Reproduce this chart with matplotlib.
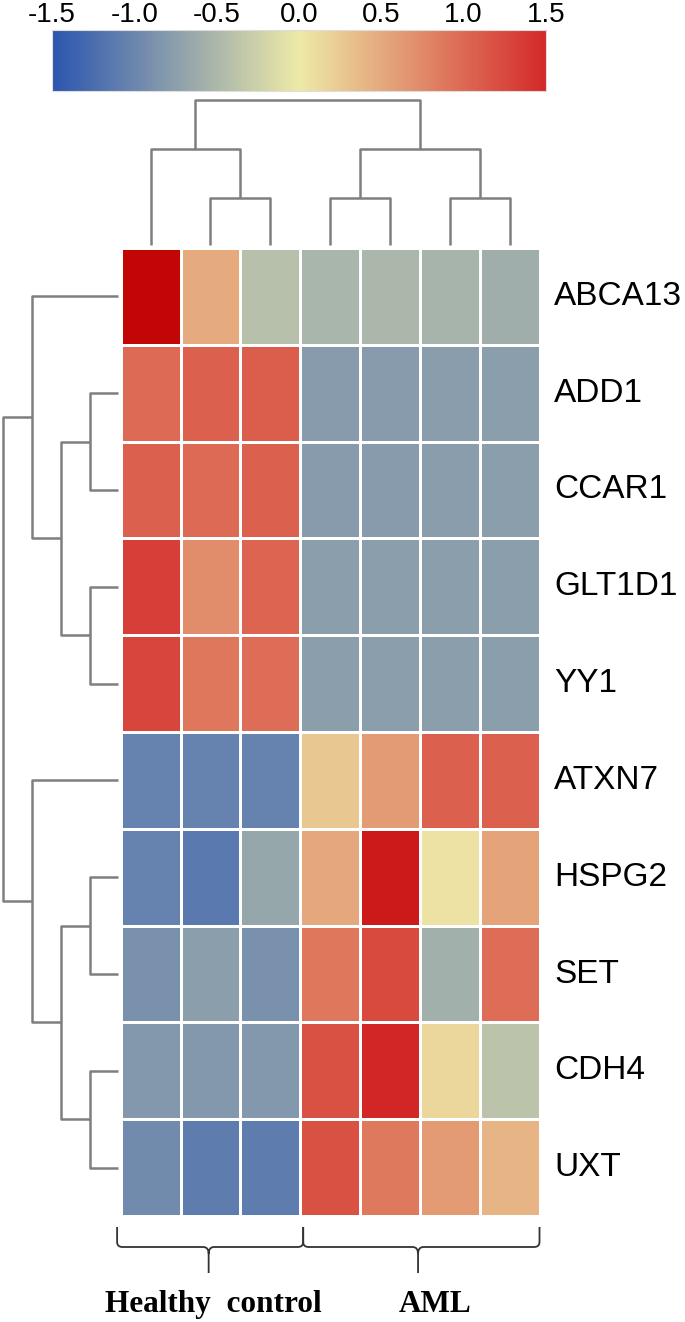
import matplotlib
matplotlib.use("Agg")
import matplotlib.pyplot as plt
import numpy as np
from matplotlib.colors import LinearSegmentedColormap, Normalize
from matplotlib.path import Path
from matplotlib.patches import PathPatch

plt.rcParams['axes.unicode_minus'] = False

# ---- data ----
genes = ["ABCA13", "ADD1", "CCAR1", "GLT1D1", "YY1",
         "ATXN7", "HSPG2", "SET", "CDH4", "UXT"]
groups = ["Healthy  control", "AML"]
group_sizes = [3, 4]

values = np.array([
    [2.20, 0.50, -0.43, -0.53, -0.51, -0.54, -0.60],   # ABCA13
    [1.00, 1.08, 1.09, -0.79, -0.79, -0.78, -0.76],    # ADD1
    [1.07, 1.00, 1.07, -0.79, -0.79, -0.78, -0.77],    # CCAR1
    [1.34, 0.73, 1.05, -0.77, -0.77, -0.77, -0.77],    # GLT1D1
    [1.28, 0.89, 0.97, -0.77, -0.77, -0.77, -0.77],    # YY1
    [-1.04, -1.04, -1.05, 0.27, 0.61, 1.07, 1.07],     # ATXN7
    [-1.04, -1.13, -0.67, 0.51, 1.80, 0.06, 0.55],     # HSPG2
    [-0.90, -0.77, -0.90, 0.89, 1.25, -0.59, 0.97],    # SET
    [-0.82, -0.82, -0.82, 1.19, 1.60, 0.16, -0.40],    # CDH4
    [-0.96, -1.11, -1.11, 1.20, 0.875, 0.61, 0.42],    # UXT
])

# dendrograms: (left node, right node, height); leaves are 0..n-1
col_merges = [(1, 2, 1.0), (3, 4, 1.0), (5, 6, 1.0),
              (0, 7, 2.04), (8, 9, 2.04), (10, 11, 3.09)]
row_merges = [(1, 2, 1.0), (3, 4, 1.0), (10, 11, 2.04), (0, 12, 3.07),
              (6, 7, 1.0), (8, 9, 1.0), (14, 15, 2.04), (5, 16, 3.07),
              (13, 17, 4.1)]

cbar_ticks = [-1.5, -1.0, -0.5, 0.0, 0.5, 1.0, 1.5]

# ---- colours ----
vmin, vmax = -1.5, 2.3
nodes = [(0.0, (44/255, 86/255, 176/255)),
         ((0 - vmin) / (vmax - vmin), (238/255, 234/255, 168/255)),
         ((1.5 - vmin) / (vmax - vmin), (212/255, 42/255, 42/255)),
         (1.0, (192/255, 0, 0))]
cmap = LinearSegmentedColormap.from_list("bgr", nodes)
norm = Normalize(vmin=vmin, vmax=vmax)

W, H = 685, 1322
fig = plt.figure(figsize=(W / 100, H / 100), dpi=100)


def px_axes(x0, y0, x1, y1):
    """axes from pixel box (top-left origin)"""
    return fig.add_axes([x0 / W, 1 - y1 / H, (x1 - x0) / W, (y1 - y0) / H])


def draw_dendro(ax, merges, n, orient):
    pos = {i: i + 0.5 for i in range(n)}
    hgt = {i: 0.0 for i in range(n)}
    for k, (a, b, h) in enumerate(merges):
        xs = [pos[a], pos[a], pos[b], pos[b]]
        ys = [hgt[a], h, h, hgt[b]]
        if orient == "top":
            ax.plot(xs, ys, color="#7f7f7f", lw=1.8, clip_on=False,
                    solid_capstyle="butt")
        else:
            ax.plot(ys, xs, color="#7f7f7f", lw=1.8, clip_on=False,
                    solid_capstyle="butt")
        pos[n + k] = (pos[a] + pos[b]) / 2
        hgt[n + k] = h
    ax.axis("off")


# heatmap
hx0, hx1, hy0, hy1 = 120.7, 539.5, 248, 1216
ax = px_axes(hx0, hy0, hx1, hy1)
ax.pcolormesh(values, cmap=cmap, norm=norm, edgecolor="white", linewidth=2.0)
ax.set_xlim(0, values.shape[1])
ax.set_ylim(values.shape[0], 0)
ax.axis("off")
for i, g in enumerate(genes):
    ax.text(values.shape[1] + (554 - hx1) / ((hx1 - hx0) / 7), i + 0.5, g,
            fontsize=24, family="Liberation Sans", va="center", ha="left")

# column dendrogram
axc = px_axes(hx0, 100, hx1, 245)
axc.set_xlim(0, values.shape[1])
axc.set_ylim(0, 3.09)
draw_dendro(axc, col_merges, values.shape[1], "top")

# row dendrogram
axr = px_axes(2.7, hy0, 118, hy1)
axr.set_ylim(values.shape[0], 0)
axr.set_xlim(4.1, 0)
draw_dendro(axr, row_merges, values.shape[0], "left")

# colour key
axk = px_axes(52, 30, 546, 91)
grad = np.linspace(-1.5, 1.5, 400).reshape(1, -1)
axk.imshow(grad, cmap=cmap, norm=norm, aspect="auto",
           extent=[-1.5, 1.5, 0, 1])
axk.set_xlim(-1.5, 1.5)
axk.set_ylim(0, 1)
axk.set_xticks([])
axk.set_yticks([])
for t in cbar_ticks:
    axk.text(t, 1 + 7.5 / 61, "%.1f" % t, transform=axk.get_xaxis_transform(),
             fontsize=20, family="Liberation Sans", ha="center", va="baseline")
for s in axk.spines.values():
    s.set_color("#dddddd")
    s.set_linewidth(0.8)

# group braces and labels
axb = px_axes(hx0, hy1, hx1, H)
axb.set_xlim(0, values.shape[1])
axb.set_ylim(H - hy1, 0)
axb.axis("off")
start = 0
label_x = [1.55, 5.25]
for gi, (name, size) in enumerate(zip(groups, group_sizes)):
    xa = start - 0.06 if gi == 0 else start + 0.05
    xb = start + size + (0.05 if gi == 0 else 0.0)
    xc = (start + size / 2.0) - 0.03
    d = 0.09
    verts = [(xa, 11), (xa, 26), (xa, 31), (xa + d, 31),
             (xc - d, 31), (xc, 31), (xc, 38), (xc, 57),
             (xc, 38), (xc, 31), (xc + d, 31),
             (xb - d, 31), (xb, 31), (xb, 26), (xb, 11)]
    codes = [Path.MOVETO, Path.LINETO, Path.CURVE3, Path.CURVE3,
             Path.LINETO, Path.CURVE3, Path.CURVE3, Path.LINETO,
             Path.MOVETO, Path.CURVE3, Path.CURVE3,
             Path.LINETO, Path.CURVE3, Path.CURVE3, Path.LINETO]
    axb.add_patch(PathPatch(Path(verts, codes), fill=False,
                            edgecolor="#333333", lw=1.3, clip_on=False))
    axb.text(label_x[gi], 1312 - hy1, name, fontsize=22.5,
             family="Liberation Serif", weight="bold",
             ha="center", va="baseline")
    start += size

fig.savefig("out.png", dpi=100)
